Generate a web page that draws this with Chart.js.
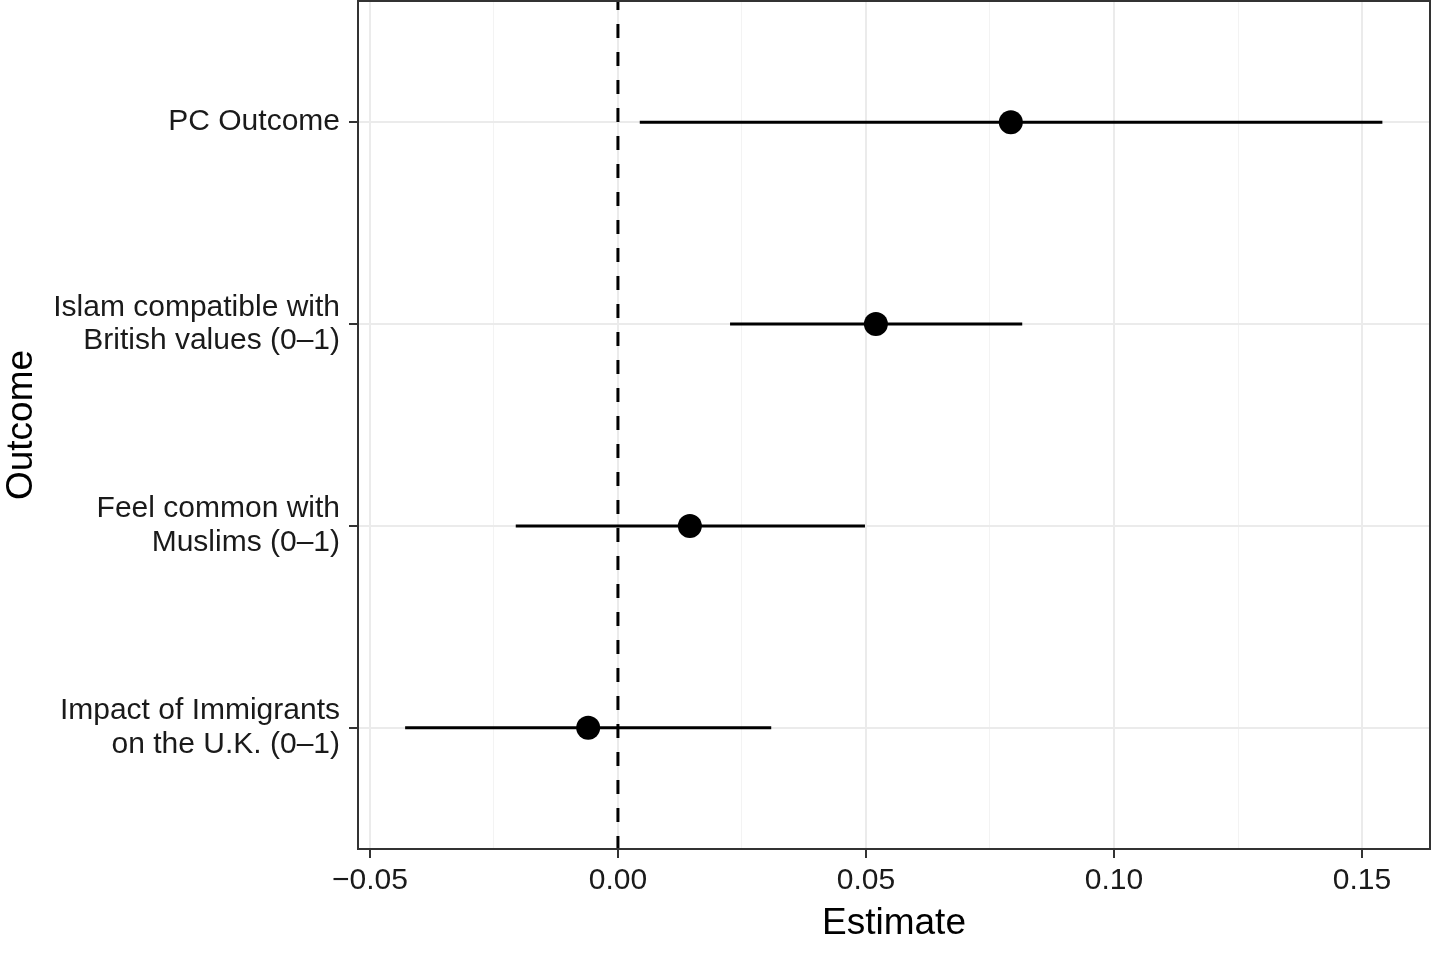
<!DOCTYPE html>
<html>
<head>
<meta charset="utf-8">
<script src="https://cdn.jsdelivr.net/npm/chart.js@4"></script>
<style>
  body { margin: 0; background: #fff; }
  canvas { display: block; }
</style>
</head>
<body>
<canvas id="chart" width="1431" height="954"></canvas>
<script>
// coefficient plot: estimate with confidence interval per outcome
const categories = [
    'PC Outcome',
    'Islam compatible with\nBritish values (0\u20131)',
    'Feel common with\nMuslims (0\u20131)',
    'Impact of Immigrants\non the U.K. (0\u20131)'
];
const estimates = [0.0792, 0.052, 0.0145, -0.006];
const lower = [0.0044, 0.0226, -0.0206, -0.0429];
const upper = [0.1541, 0.0815, 0.0498, 0.0309];
const xTicks = [-0.05, -0.025, 0, 0.025, 0.05, 0.075, 0.1, 0.125, 0.15];
const xTickLabels = ['\u22120.05', '', '0.00', '', '0.05', '', '0.10', '', '0.15'];

const FONT = '"Liberation Sans", Arial, Helvetica, sans-serif';
const yMin = -0.6, yMax = categories.length - 0.4;

const ciSets = categories.map((c, i) => ({
    data: [{ x: lower[i], y: i }, { x: upper[i], y: i }],
    showLine: true,
    borderColor: '#000',
    borderWidth: 3,
    pointRadius: 0
}));

// frame around the panel, like theme_bw
const panelBorder = {
    id: 'panelBorder',
    afterDraw(chart) {
        const a = chart.chartArea, ctx = chart.ctx;
        ctx.save();
        ctx.strokeStyle = '#333';
        ctx.lineWidth = 2;
        ctx.strokeRect(a.left, a.top, a.right - a.left, a.bottom - a.top);
        ctx.restore();
    }
};

new Chart(document.getElementById('chart'), {
    type: 'scatter',
    data: {
        datasets: [
            {
                data: [{ x: 0, y: yMin }, { x: 0, y: yMax }],
                showLine: true,
                borderColor: '#000',
                borderWidth: 3,
                borderDash: [14, 14],
                borderDashOffset: 5,
                pointRadius: 0
            },
            ...ciSets,
            {
                data: estimates.map((v, i) => ({ x: v, y: i })),
                backgroundColor: '#000',
                borderWidth: 0,
                pointRadius: 12
            }
        ]
    },
    options: {
        responsive: false,
        animation: false,
        devicePixelRatio: 1,
        layout: { autoPadding: false, padding: { top: 1, right: 1 } },
        plugins: { legend: { display: false }, tooltip: { enabled: false } },
        scales: {
            x: {
                type: 'linear',
                min: -0.0524,
                max: 0.1637,
                afterBuildTicks: s => { s.ticks = xTicks.map(v => ({ value: v })); },
                afterFit: s => { s.height = 105; s.paddingLeft = 0; s.paddingRight = 0; },
                border: { display: false },
                grid: {
                    color: ctx => (ctx.index % 2 ? '#F3F3F3' : '#EBEBEB'),
                    lineWidth: ctx => (ctx.index % 2 ? 1 : 2),
                    tickColor: ctx => (ctx.index % 2 ? 'rgba(0,0,0,0)' : '#333'),
                    tickWidth: 2,
                    tickLength: 9
                },
                ticks: {
                    autoSkip: false,
                    maxRotation: 0,
                    padding: 5,
                    color: '#1A1A1A',
                    font: { family: FONT, size: 30 },
                    callback: (v, i) => xTickLabels[i]
                },
                title: {
                    display: true,
                    text: 'Estimate',
                    color: '#000',
                    font: { family: FONT, size: 37 },
                    padding: { top: 0, bottom: 8 }
                }
            },
            y: {
                type: 'linear',
                reverse: true,
                min: yMin,
                max: yMax,
                afterBuildTicks: s => { s.ticks = categories.map((c, i) => ({ value: i })); },
                afterFit: s => { s.width = 358; s.paddingTop = 0; s.paddingBottom = 0; },
                border: { display: false },
                grid: {
                    color: '#EBEBEB',
                    lineWidth: 2,
                    tickColor: '#333',
                    tickWidth: 2,
                    tickLength: 9
                },
                ticks: {
                    autoSkip: false,
                    padding: 9,
                    color: '#1A1A1A',
                    font: { family: FONT, size: 30, lineHeight: 1.12 },
                    callback: v => categories[v].split('\n')
                },
                title: {
                    display: true,
                    text: 'Outcome',
                    color: '#000',
                    font: { family: FONT, size: 37 },
                    padding: { top: 0, bottom: 0 }
                }
            }
        }
    },
    plugins: [panelBorder]
});
</script>
</body>
</html>
